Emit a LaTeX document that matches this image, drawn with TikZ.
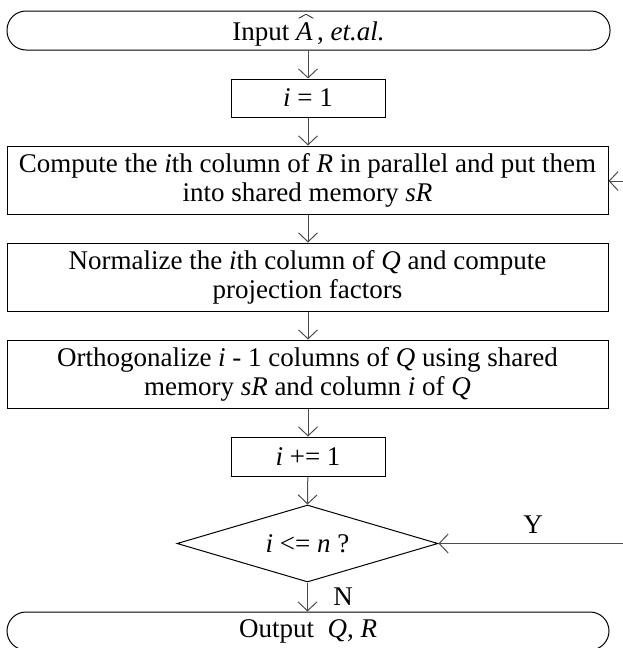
\documentclass[tikz,border=0pt]{standalone}
\usepackage{graphicx}
\usepackage{fontspec}
\setmainfont{Liberation Serif}
\usetikzlibrary{arrows.meta,shapes.geometric}
\newcommand{\myhatA}{\makebox[0pt][l]{\hspace{1.5pt}\raisebox{20pt}{\resizebox{17pt}{6pt}{\textasciicircum}}}\textit{A}}
\tikzset{
  base/.style={draw=black, line width=1pt, inner sep=0pt, align=center,
    font=\fontsize{27}{29}\selectfont},
  procbox/.style={base, rectangle},
  termbox/.style={base, rectangle, rounded corners=19pt},
  decbox/.style={base, diamond, shape aspect=3.39},
  conn/.style={draw=black!70, line width=1pt, -{Straight Barb[length=9pt,width=19pt,line width=1pt]}},
  lbl/.style={font=\fontsize{27}{29}\selectfont, inner sep=0pt}
}
\begin{document}
\begin{tikzpicture}[x=1pt,y=-1pt]
\useasboundingbox (0,0) rectangle (623,648);
\node[termbox, minimum width=603pt, minimum height=39pt] (in) at (308.5,30.5)
  {Input \myhatA\,, \textit{et.al.}};
\node[procbox, minimum width=154pt, minimum height=38pt] (i1) at (308,98) {\textit{i} = 1};
\node[procbox, minimum width=601pt, minimum height=68pt] (b3) at (307.5,180)
  {Compute the \textit{i}th column of \textit{R} in parallel and put them\\ into shared memory \textit{sR}};
\node[procbox, minimum width=601pt, minimum height=68pt] (b4) at (307.5,277)
  {Normalize the \textit{i}th column of \textit{Q} and compute\\ projection factors};
\node[procbox, minimum width=601pt, minimum height=68pt] (b5) at (307.5,374)
  {Orthogonalize \textit{i} - 1 columns of \textit{Q} using shared\\ memory \textit{sR} and column \textit{i} of \textit{Q}};
\node[procbox, minimum width=154pt, minimum height=39pt] (inc) at (308,456.5) {\textit{i} += 1};
\node[decbox, minimum width=261pt, minimum height=77pt] (dec) at (307.5,543.5) {\textit{i} <= \textit{n} ?};
\node[termbox, minimum width=602pt, minimum height=38pt] (out) at (308,631) {Output\ \ \textit{Q}, \textit{R}};
\coordinate (fbtop) at (623,181);
\coordinate (fbbot) at (623,543.5);
\draw[conn] (in.south -| i1.north) -- (i1.north);
\draw[conn] (i1) -- (i1.south |- b3.north);
\draw[conn] (b3.south -| i1.south) -- (b4.north -| i1.south);
\draw[conn] (b4.south -| i1.south) -- (b5.north -| i1.south);
\draw[conn] (b5.south -| inc.north) -- (inc.north);
\draw[conn] (inc) -- (dec.north);
\draw[conn] (dec.south) -- (dec.south |- out.north);
\draw[conn] (fbbot) -- (dec.east);
\draw[conn] (fbtop) -- (fbtop -| b3.east);
\node[lbl] (y) at (533,525) {Y};
\node[lbl] (n) at (343,597) {N};
\end{tikzpicture}
\end{document}
